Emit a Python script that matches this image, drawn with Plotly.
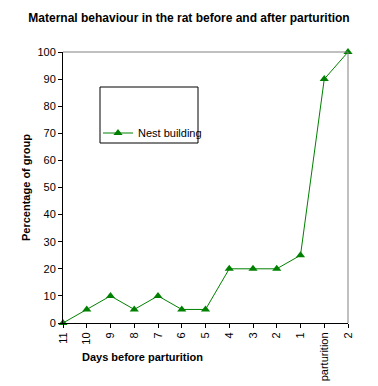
import plotly.graph_objects as go

days = ["11", "10", "9", "8", "7", "6", "5", "4", "3", "2", "1", "parturition", "2"]
nest_building = [0, 5, 10, 5, 10, 5, 5, 20, 20, 20, 25, 90, 100]
y_ticks = [0, 10, 20, 30, 40, 50, 60, 70, 80, 90, 100]

xpos = list(range(len(days)))

fig = go.Figure()
fig.add_trace(go.Scatter(
    x=xpos, y=nest_building, mode="lines+markers", name="Nest building",
    line=dict(color="#008000", width=1),
    marker=dict(symbol="triangle-up", size=8, color="#008000"),
    cliponaxis=False,
))

font = "Liberation Sans, Arial, sans-serif"
OFF = 8  # page body margin
W, H = 378 - OFF, 386 - OFF
L, R, T, B = 63 - OFF, 30, 52 - OFF, 63
PW, PH = W - L - R, H - T - B


def px(x):
    return (x - OFF - L) / PW


def py(y):
    return (H - B - (y - OFF)) / PH


fig.update_layout(
    width=W, height=H,
    margin=dict(l=L, r=R, t=T, b=B, autoexpand=False),
    paper_bgcolor="white", plot_bgcolor="white",
    font=dict(family=font, size=11, color="black"),
    title=dict(text="<b>Maternal behaviour in the rat before and after parturition</b>",
               x=(189 - OFF) / W, xanchor="center", y=1 - (18 - OFF) / H, yanchor="middle",
               font=dict(size=12, family=font)),
    showlegend=True,
    legend=dict(x=px(98), y=py(133), xanchor="left", yanchor="middle",
                bgcolor="rgba(0,0,0,0)", borderwidth=0, font=dict(size=11),
                itemwidth=30),
    xaxis=dict(range=[0, len(days) - 1], tickmode="array", tickvals=xpos, ticktext=days,
               tickangle=-90, showgrid=False, zeroline=False, showline=True,
               linecolor="black", linewidth=1, ticks="outside", ticklen=4,
               tickcolor="black", automargin=False),
    yaxis=dict(range=[0, 100], tickmode="array", tickvals=y_ticks, showgrid=False,
               zeroline=False, showline=True, linecolor="black", linewidth=1,
               ticks="outside", ticklen=4, tickcolor="black", automargin=False,
               title=dict(text="<b>Percentage of group</b>", standoff=4,
                          font=dict(size=11))),
    shapes=[
        dict(type="line", xref="paper", yref="paper", x0=0, x1=1, y0=1, y1=1,
             line=dict(color="#808080", width=1)),
        dict(type="line", xref="paper", yref="paper", x0=1, x1=1, y0=0, y1=1,
             line=dict(color="#808080", width=1)),
        dict(type="rect", xref="paper", yref="paper",
             x0=px(100), x1=px(198), y0=py(143), y1=py(87),
             line=dict(color="black", width=1), fillcolor="rgba(0,0,0,0)"),
    ],
    annotations=[
        dict(text="<b>Days before parturition</b>", xref="paper", yref="paper",
             x=px(142), y=py(357), xanchor="center", yanchor="middle",
             showarrow=False, font=dict(size=11, family=font)),
    ],
)

fig.write_html("out.html")
